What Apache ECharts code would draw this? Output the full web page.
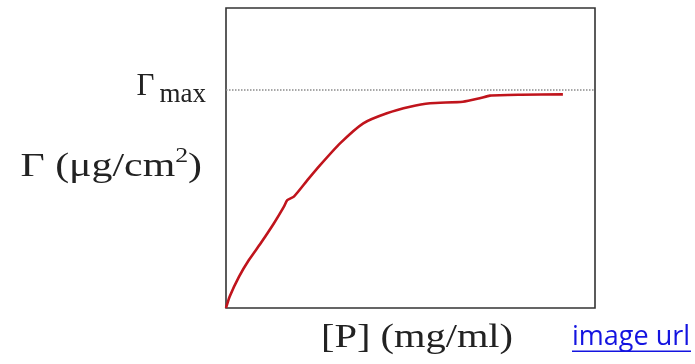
<!DOCTYPE html>
<html>
<head>
<meta charset="utf-8">
<script src="https://cdn.jsdelivr.net/npm/echarts@6/dist/echarts.min.js"></script>
<style>
  html, body { margin: 0; padding: 0; background: #ffffff; }
  #chart { width: 695px; height: 364px; }
</style>
</head>
<body>
<div id="chart"></div>
<script>
// Adsorption isotherm: surface excess Γ against polymer concentration [P]
const concentration = [0, 0.1, 0.35, 0.62, 0.94, 1.30, 1.57, 1.66, 1.84, 2.2, 2.55, 3.09, 3.72, 4.36, 4.99, 5.53, 6.42, 6.9, 7.15, 8.0, 9.13];
const adsorbed      = [0, 0.053, 0.143, 0.22, 0.297, 0.389, 0.465, 0.495, 0.511, 0.585, 0.655, 0.755, 0.847, 0.893, 0.923, 0.939, 0.946, 0.963, 0.974, 0.978, 0.980];
const GAMMA_MAX = 1;          // plateau level
const X_MAX = 10;
const Y_MAX = 1.376;

const serif = "'Liberation Serif', 'Times New Roman', serif";
const ink = '#222222';
const linkBlue = '#1414e0';

const chart = echarts.init(document.getElementById('chart'), null, { renderer: 'canvas' });

const points = concentration.map((c, i) => [c, adsorbed[i]]);

const hiddenAxis = {
  axisLine: { show: false },
  axisTick: { show: false },
  axisLabel: { show: false },
  splitLine: { show: false }
};

chart.setOption({
  animation: false,
  backgroundColor: '#ffffff',
  grid: {
    show: true,
    left: 226, top: 8, width: 369, height: 300,
    borderColor: '#333333',
    borderWidth: 1.6,
    backgroundColor: 'transparent'
  },
  xAxis: Object.assign({ type: 'value', min: 0, max: X_MAX }, hiddenAxis),
  yAxis: Object.assign({ type: 'value', min: 0, max: Y_MAX }, hiddenAxis),
  series: [{
    type: 'line',
    data: points,
    showSymbol: false,
    smooth: 0.2,
    lineStyle: { color: '#c0141c', width: 2.6 },
    markLine: {
      silent: true,
      symbol: 'none',
      label: { show: false },
      lineStyle: { color: '#8a8a8a', type: [1.5, 1.5], width: 1.5 },
      data: [{ yAxis: GAMMA_MAX }]
    }
  }]
});

const yMaxPx = chart.convertToPixel({ yAxisIndex: 0 }, GAMMA_MAX);

chart.setOption({
  graphic: [
    {
      // Γmax label beside the plateau line
      type: 'text',
      x: 206, y: yMaxPx + 12,
      style: {
        text: '{g|Γ}{s|max}',
        align: 'right',
        verticalAlign: 'bottom',
        rich: {
          g: { fontFamily: serif, fontSize: 31, fill: ink, lineHeight: 40, verticalAlign: 'bottom', padding: [0, 5, 0, 0] },
          s: { fontFamily: serif, fontSize: 27, fill: ink, lineHeight: 40, verticalAlign: 'bottom', padding: [0, 0, -6, 0] }
        }
      }
    },
    {
      // y axis title
      type: 'text',
      x: 202, y: 164,
      scaleX: 1.23,
      style: {
        text: '{a|Γ (μg/cm}{s|2}{a|)}',
        align: 'right',
        verticalAlign: 'middle',
        rich: {
          a: { fontFamily: serif, fontSize: 34, fill: ink, lineHeight: 40, verticalAlign: 'bottom' },
          s: { fontFamily: serif, fontSize: 21, fill: ink, lineHeight: 40, verticalAlign: 'top', padding: [2, 0, 0, 0] }
        }
      }
    },
    {
      // x axis title
      type: 'text',
      x: 417, y: 338,
      scaleX: 1.19,
      style: {
        text: '[P] (mg/ml)',
        align: 'center',
        verticalAlign: 'middle',
        fontFamily: serif, fontSize: 34, fill: ink
      }
    },
    {
      type: 'group',
      children: [
        {
          type: 'text',
          x: 572, y: 337,
          style: {
            text: 'image url',
            align: 'left',
            verticalAlign: 'middle',
            fontFamily: "'Open Sans', sans-serif", fontSize: 27, fill: linkBlue
          }
        },
        {
          type: 'rect',
          shape: { x: 572, y: 350.5, width: 119, height: 1.5 },
          style: { fill: linkBlue }
        }
      ]
    }
  ]
});
</script>
</body>
</html>
